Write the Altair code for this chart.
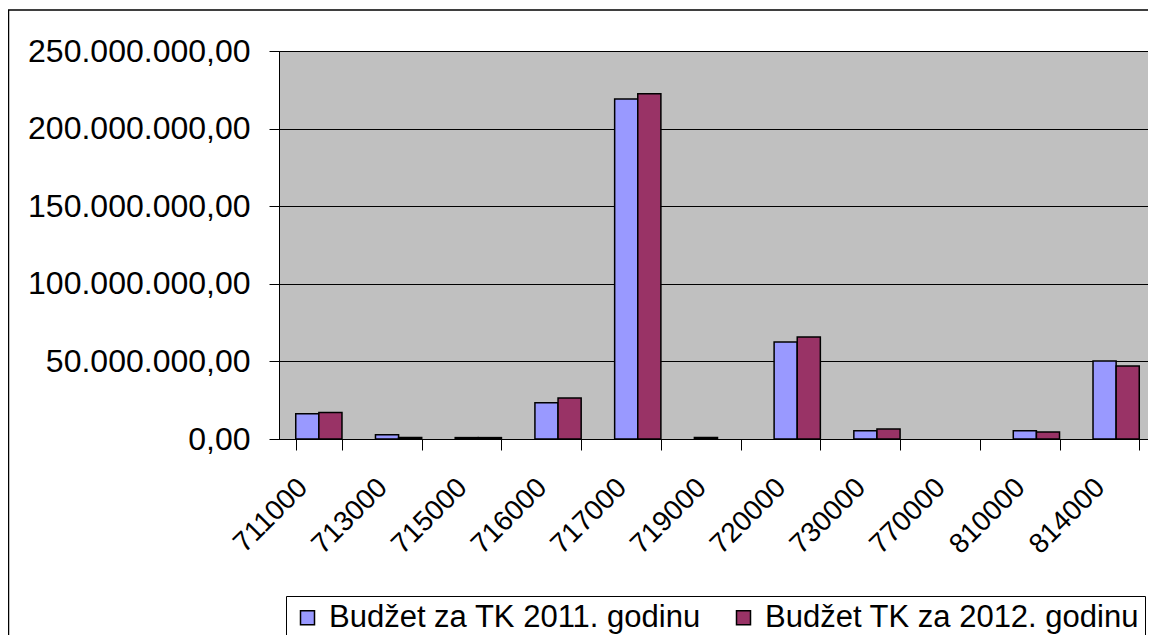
import altair as alt
import pandas as pd

categories = ["711000", "713000", "715000", "716000", "717000", "719000",
              "720000", "730000", "770000", "810000", "814000"]
budget_2011 = [16.3e6, 2.8e6, 0.9e6, 23.4e6, 219.0e6, 1.0e6, 62.5e6, 5.3e6, 0.0, 5.3e6, 50.3e6]
budget_2012 = [17.1e6, 1.0e6, 0.9e6, 26.4e6, 222.4e6, 0.0, 65.7e6, 6.4e6, 0.0, 4.5e6, 47.0e6]
series = ["Budžet za TK 2011. godinu", "Budžet TK za 2012. godinu"]
colors = ["#9999FF", "#993366"]
y_ticks = [0, 50e6, 100e6, 150e6, 200e6, 250e6]

rows = []
for c, v1, v2 in zip(categories, budget_2011, budget_2012):
    rows.append({"category": c, "series": series[0], "value": v1})
    rows.append({"category": c, "series": series[1], "value": v2})
df = pd.DataFrame(rows)

FONT = "Liberation Sans"
label_expr = ("replace(replace(replace(format(datum.value, ',.2f'), regexp(',', 'g'), '#'),"
              " regexp('[.]', 'g'), ','), regexp('#', 'g'), '.')")

bars = alt.Chart(df).transform_filter("datum.value > 0").mark_bar(
    stroke="black", strokeWidth=1.5
).encode(
    x=alt.X("category:N", sort=categories,
            scale=alt.Scale(domain=categories, paddingInner=0.42, paddingOuter=0.21),
            axis=alt.Axis(title=None, labelAngle=315, labelAlign="right", labelBaseline="middle",
                          labelPadding=33, labelOffset=-16, labelFontSize=28, labelFont=FONT,
                          labelColor="black", tickBand="extent", tickSize=11, tickColor="black",
                          tickWidth=1, domainColor="black", domainWidth=1, grid=False)),
    xOffset=alt.XOffset("series:N", sort=series,
                        scale=alt.Scale(domain=series, paddingInner=0, paddingOuter=0)),
    y=alt.Y("value:Q", scale=alt.Scale(domain=[0, 250e6], nice=False, zero=True),
            axis=alt.Axis(values=y_ticks, labelExpr=label_expr, title=None, grid=True,
                          gridColor="black", gridOpacity=1, gridWidth=1, tickSize=10,
                          tickColor="black", labelPadding=19, labelFontSize=32, labelFont=FONT,
                          labelLimit=400, labelColor="black", domainColor="black",
                          domainWidth=1)),
    color=alt.Color("series:N", sort=series,
                    scale=alt.Scale(domain=series, range=colors),
                    legend=alt.Legend(title=None, orient="none", legendX=7, legendY=545,
                                      direction="horizontal", symbolType="square", symbolSize=196,
                                      symbolStrokeColor="black", symbolStrokeWidth=1.5,
                                      symbolOpacity=1, labelFontSize=31, labelFont=FONT,
                                      labelColor="black", labelLimit=600, labelOffset=6,
                                      columnPadding=27, padding=6, strokeColor="black",
                                      fillColor="white")),
)

border = alt.Chart(pd.DataFrame({"d": [0]})).mark_rect(
    fillOpacity=0, stroke="black", strokeWidth=1.5
).encode(
    x=alt.value(-270.5), x2=alt.value(1000), y=alt.value(-41), y2=alt.value(700)
)

chart = alt.layer(border, bars).properties(
    width=877, height=388,
    autosize=alt.AutoSizeParams(type="none"),
    padding={"left": 271, "top": 43, "right": -8, "bottom": 196},
).configure_view(fill="#C0C0C0", stroke="black", strokeWidth=1)

chart.save("out.html", embed_options={"renderer": "svg", "actions": False})
